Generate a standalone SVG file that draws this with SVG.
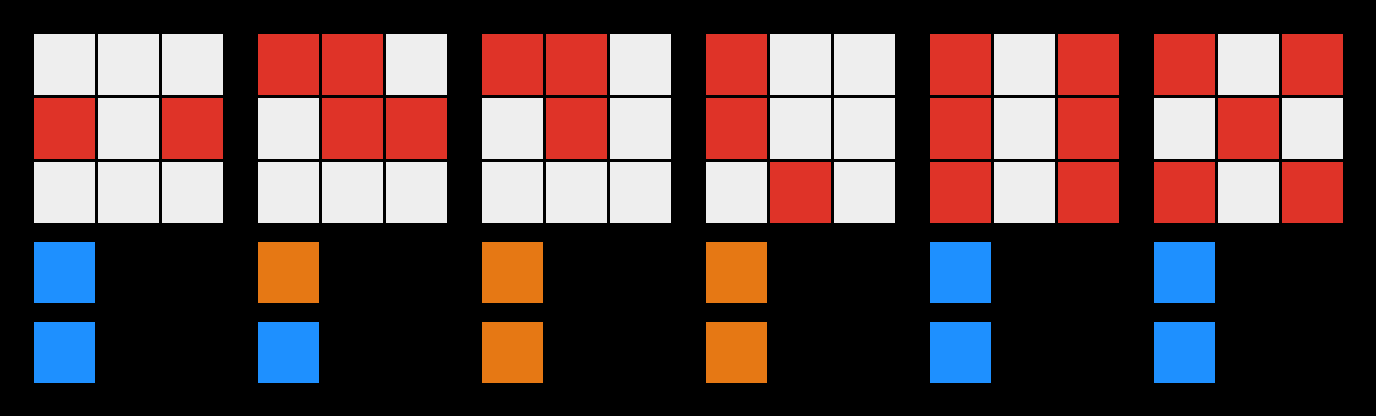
<svg xmlns="http://www.w3.org/2000/svg" width="1376" height="416" viewBox="0 0 1376 416">
<style>
.w{fill:#EEEEEE}.r{fill:#DF3328}.b{fill:#1E90FF}.o{fill:#E67814}
</style>
<defs>
<rect id="c" width="61" height="61"/>
</defs>
<rect width="1376" height="416" fill="#000"/>
<g id="panel1" transform="translate(34,34)">
<use href="#c" x="0" y="0" class="w"/><use href="#c" x="64" y="0" class="w"/><use href="#c" x="128" y="0" class="w"/>
<use href="#c" x="0" y="64" class="r"/><use href="#c" x="64" y="64" class="w"/><use href="#c" x="128" y="64" class="r"/>
<use href="#c" x="0" y="128" class="w"/><use href="#c" x="64" y="128" class="w"/><use href="#c" x="128" y="128" class="w"/>
<use href="#c" x="0" y="208" class="b"/><use href="#c" x="0" y="288" class="b"/>
</g>
<g id="panel2" transform="translate(258,34)">
<use href="#c" x="0" y="0" class="r"/><use href="#c" x="64" y="0" class="r"/><use href="#c" x="128" y="0" class="w"/>
<use href="#c" x="0" y="64" class="w"/><use href="#c" x="64" y="64" class="r"/><use href="#c" x="128" y="64" class="r"/>
<use href="#c" x="0" y="128" class="w"/><use href="#c" x="64" y="128" class="w"/><use href="#c" x="128" y="128" class="w"/>
<use href="#c" x="0" y="208" class="o"/><use href="#c" x="0" y="288" class="b"/>
</g>
<g id="panel3" transform="translate(482,34)">
<use href="#c" x="0" y="0" class="r"/><use href="#c" x="64" y="0" class="r"/><use href="#c" x="128" y="0" class="w"/>
<use href="#c" x="0" y="64" class="w"/><use href="#c" x="64" y="64" class="r"/><use href="#c" x="128" y="64" class="w"/>
<use href="#c" x="0" y="128" class="w"/><use href="#c" x="64" y="128" class="w"/><use href="#c" x="128" y="128" class="w"/>
<use href="#c" x="0" y="208" class="o"/><use href="#c" x="0" y="288" class="o"/>
</g>
<g id="panel4" transform="translate(706,34)">
<use href="#c" x="0" y="0" class="r"/><use href="#c" x="64" y="0" class="w"/><use href="#c" x="128" y="0" class="w"/>
<use href="#c" x="0" y="64" class="r"/><use href="#c" x="64" y="64" class="w"/><use href="#c" x="128" y="64" class="w"/>
<use href="#c" x="0" y="128" class="w"/><use href="#c" x="64" y="128" class="r"/><use href="#c" x="128" y="128" class="w"/>
<use href="#c" x="0" y="208" class="o"/><use href="#c" x="0" y="288" class="o"/>
</g>
<g id="panel5" transform="translate(930,34)">
<use href="#c" x="0" y="0" class="r"/><use href="#c" x="64" y="0" class="w"/><use href="#c" x="128" y="0" class="r"/>
<use href="#c" x="0" y="64" class="r"/><use href="#c" x="64" y="64" class="w"/><use href="#c" x="128" y="64" class="r"/>
<use href="#c" x="0" y="128" class="r"/><use href="#c" x="64" y="128" class="w"/><use href="#c" x="128" y="128" class="r"/>
<use href="#c" x="0" y="208" class="b"/><use href="#c" x="0" y="288" class="b"/>
</g>
<g id="panel6" transform="translate(1154,34)">
<use href="#c" x="0" y="0" class="r"/><use href="#c" x="64" y="0" class="w"/><use href="#c" x="128" y="0" class="r"/>
<use href="#c" x="0" y="64" class="w"/><use href="#c" x="64" y="64" class="r"/><use href="#c" x="128" y="64" class="w"/>
<use href="#c" x="0" y="128" class="r"/><use href="#c" x="64" y="128" class="w"/><use href="#c" x="128" y="128" class="r"/>
<use href="#c" x="0" y="208" class="b"/><use href="#c" x="0" y="288" class="b"/>
</g>
<g id="connectors"/>
</svg>
